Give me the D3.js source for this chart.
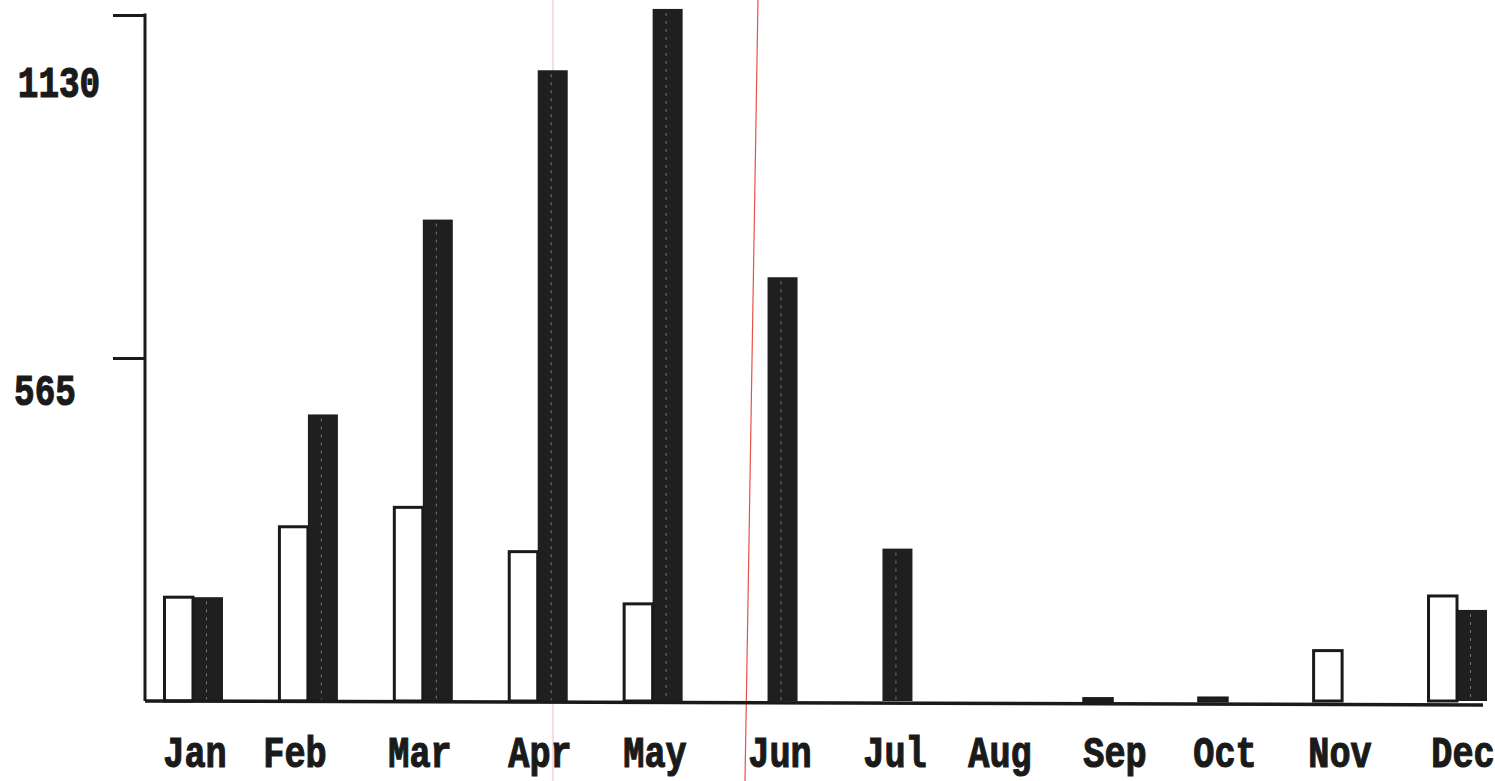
<!DOCTYPE html>
<html>
<head>
<meta charset="utf-8">
<script src="https://cdn.jsdelivr.net/npm/d3@7"></script>
<style>
  body { margin: 0; background: #fff; }
  svg text { font-family: "Liberation Mono", "DejaVu Sans Mono", monospace; font-weight: bold; fill: #1a1a1a; stroke: #1a1a1a; stroke-width: 1.2px; }
</style>
</head>
<body>
<div id="chart"></div>
<script>
var width = 1495;
var height = 781;

var months = ["Jan", "Feb", "Mar", "Apr", "May", "Jun", "Jul", "Aug", "Sep", "Oct", "Nov", "Dec"];
var seriesA = [171, 287, 319, 246, 160, 0, 0, 0, 4, 5, 83, 173];      // white bars
var seriesB = [171, 472, 793, 1039, 1140, 698, 251, 0, 0, 0, 0, 150]; // dark bars
var yTicks = [565, 1130];
var yLabelBase = [405, 97];

var svg = d3.select("#chart").append("svg")
  .attr("width", width)
  .attr("height", height);

var y = d3.scaleLinear().domain([0, 1130]).range([701, 15]);

var x0 = d3.scaleBand()
  .domain(months)
  .range([163, 1487])
  .paddingInner(0.478)
  .paddingOuter(0);

var x1 = d3.scaleBand()
  .domain(["a", "b"])
  .range([0, x0.bandwidth()])
  .padding(0);

// scan artifacts (faint lines)
svg.append("line")
  .attr("x1", 553).attr("y1", 0).attr("x2", 553).attr("y2", 781)
  .style("stroke", "#f0c8d8").style("stroke-width", 1.2);
svg.append("line")
  .attr("x1", 758).attr("y1", 0).attr("x2", 745).attr("y2", 781)
  .style("stroke", "#e8504a").style("stroke-width", 1.2);

// y axis
var yAxis = d3.axisLeft(y)
  .tickValues(yTicks)
  .tickSize(32)
  .tickFormat("");
var gy = svg.append("g")
  .attr("transform", "translate(145,0)")
  .call(yAxis);
gy.select(".domain").remove();
gy.selectAll(".tick line").style("stroke", "#1a1a1a").style("stroke-width", 3);

svg.append("line")
  .attr("x1", 145).attr("y1", y(1130) - 1.5)
  .attr("x2", 145).attr("y2", y(0))
  .style("stroke", "#1a1a1a").style("stroke-width", 3);

// y labels sit below their tick
yTicks.forEach(function(t, i) {
  svg.append("text")
    .attr("text-anchor", "middle")
    .attr("transform", "translate(" + (t === 1130 ? 59 : 45) + "," + yLabelBase[i] + ") scale(0.78,1)")
    .style("font-size", "44px")
    .text(t);
});

var groups = svg.selectAll("g.month")
  .data(months)
  .enter().append("g")
  .attr("class", "month")
  .attr("transform", function(d) { return "translate(" + x0(d) + ",0)"; });

// dark bars
groups.append("rect")
  .attr("x", x1("b"))
  .attr("y", function(d, i) { return y(seriesB[i]); })
  .attr("width", x1.bandwidth())
  .attr("height", function(d, i) { return y(0) - y(seriesB[i]); })
  .style("fill", "#1f1f1f");
groups.append("line")
  .attr("x1", x1("b") + x1.bandwidth() * 0.45)
  .attr("x2", x1("b") + x1.bandwidth() * 0.45)
  .attr("y1", function(d, i) { return y(seriesB[i]) + 4; })
  .attr("y2", y(0))
  .style("stroke", function(d, i) { return seriesB[i] > 30 ? "#777" : "none"; })
  .style("stroke-width", 1)
  .style("stroke-dasharray", "3,5");

// white bars
groups.append("rect")
  .attr("x", x1("a") + 1.5)
  .attr("y", function(d, i) { return y(seriesA[i]); })
  .attr("width", x1.bandwidth() - 1.5)
  .attr("height", function(d, i) { return y(0) - y(seriesA[i]); })
  .style("fill", "#fff")
  .style("stroke", function(d, i) { return seriesA[i] > 0 ? "#1a1a1a" : "none"; })
  .style("stroke-width", 3);

// baseline
svg.append("line")
  .attr("x1", 145).attr("y1", y(0))
  .attr("x2", 1483).attr("y2", y(0) + 4)
  .style("stroke", "#1a1a1a").style("stroke-width", 3.5);

// month labels
var xLabelPos = [195, 295, 420, 540, 655, 780, 895, 1000, 1115, 1225, 1340, 1463];
groups.append("text")
  .attr("text-anchor", "middle")
  .attr("transform", function(d, i) {
    return "translate(" + (xLabelPos[i] - x0(d)) + ",767) scale(0.8,1)";
  })
  .style("font-size", "44px")
  .text(function(d) { return d; });
</script>
</body>
</html>
